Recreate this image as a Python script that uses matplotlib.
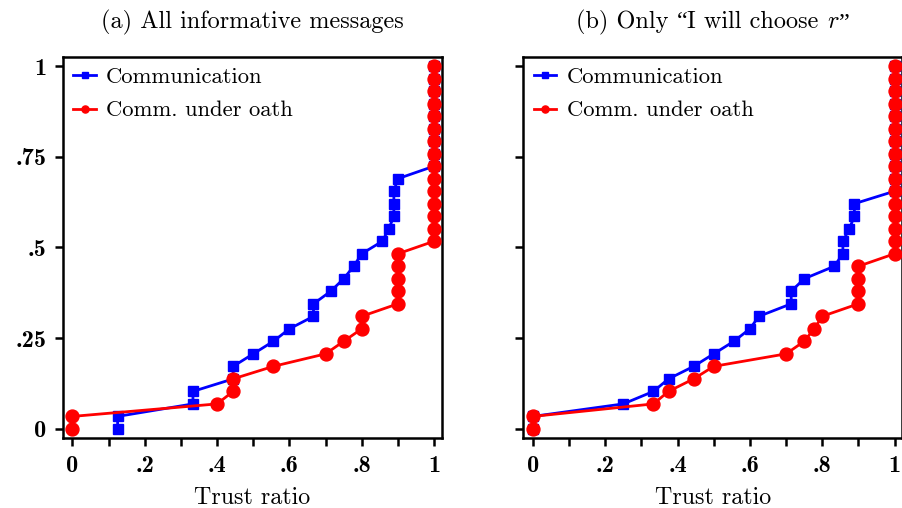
import numpy as np
import matplotlib
matplotlib.use("Agg")
import matplotlib.pyplot as plt
from matplotlib.offsetbox import TextArea, HPacker, AnchoredOffsetbox

N = 29
# Panel (a): All informative messages
a_comm_x = [0.125, 0.125, 1/3, 1/3, 4/9, 4/9, 0.5, 5/9, 0.6, 2/3, 2/3, 5/7, 0.75, 7/9, 0.8,
            6/7, 0.875, 8/9, 8/9, 8/9, 0.9] + [1.0] * 9
a_oath_x = [0.0, 0.0, 0.4, 4/9, 4/9, 5/9, 0.7, 0.75, 0.8, 0.8] + [0.9] * 5 + [1.0] * 15
# Panel (b): Only "I will choose r"
b_comm_x = [0.0, 0.0, 0.25, 1/3, 0.375, 4/9, 0.5, 5/9, 0.6, 0.625, 5/7, 5/7, 0.75, 5/6,
            6/7, 6/7, 0.875, 8/9, 8/9] + [1.0] * 11
b_oath_x = [0.0, 0.0, 1/3, 0.375, 4/9, 0.5, 0.7, 0.75, 7/9, 0.8] + [0.9] * 4 + [1.0] * 16

# titles as (text, font) pieces
title_parts = [
    [("(a) All informative messages", "cmr10")],
    [("(b) Only ", "cmr10"), ("\u201c", "Liberation Serif"), ("I will choose ", "cmr10"),
     ("$r$", "cmr10"), ("\u201d", "Liberation Serif")],
]
series_labels = ["Communication", "Comm. under oath"]
xtick_vals = [0, .1, .2, .3, .4, .5, .6, .7, .8, .9, 1]
xtick_labels = ["0", "", ".2", "", ".4", "", ".6", "", ".8", "", "1"]
ytick_vals = [0, .25, .5, .75, 1]
ytick_labels = ["0", ".25", ".5", ".75", "1"]

plt.rcParams["mathtext.fontset"] = "cm"
plt.rcParams["font.family"] = ["cmr10", "DejaVu Serif"]
plt.rcParams["axes.unicode_minus"] = False

TITLE_FS = 17.5
LEG_FS = 16.3
LAB_FS = 17.3
TICK_FS = 17.5

fig = plt.figure(figsize=(9.03, 5.08), dpi=100)
W, H = 903, 508
boxes = [(63, 57, 379, 381), (523.5, 57, 379, 381)]
data = [(a_comm_x, a_oath_x), (b_comm_x, b_oath_x)]

for i, ((l, t, w, h), (cx, ox)) in enumerate(zip(boxes, data)):
    ax = fig.add_axes([l / W, 1 - (t + h) / H, w / W, h / H])
    cy = np.arange(len(cx)) / N
    oy = np.arange(len(ox)) / N
    ax.plot(cx, cy, color="#0000ff", marker="s", markersize=7.4, lw=2.0,
            label=series_labels[0], zorder=3)
    ax.plot(ox, oy, color="#ff0000", marker="o", markersize=9.3, lw=2.0,
            label=series_labels[1], zorder=4)
    ax.set_xlim(-0.026, 1.022)
    ax.set_ylim(-0.025, 1.025)
    ax.set_xticks(xtick_vals)
    ax.set_xticklabels(xtick_labels, fontfamily="cmb10", fontsize=TICK_FS)
    ax.set_yticks(ytick_vals)
    if i == 0:
        ax.set_yticklabels(ytick_labels, fontfamily="cmb10", fontsize=TICK_FS)
    else:
        ax.set_yticklabels([])
    ax.tick_params(direction="out", length=6, width=1.8, pad=6)
    for s in ax.spines.values():
        s.set_linewidth(1.8)
    ax.set_xlabel("Trust ratio", fontsize=LAB_FS, labelpad=7)
    areas = [TextArea(s, textprops=dict(fontfamily=f, fontsize=TITLE_FS))
             for s, f in title_parts[i]]
    pack = HPacker(children=areas, align="baseline", pad=0, sep=0)
    anch = AnchoredOffsetbox(loc="lower center", child=pack, pad=0, borderpad=0,
                             frameon=False, bbox_to_anchor=(0.5, 1 + 22 / h),
                             bbox_transform=ax.transAxes)
    ax.add_artist(anch)
    ax.legend(loc="upper left", frameon=False, fontsize=LEG_FS, handlelength=1.0,
              markerscale=0.55, borderaxespad=0.05, labelspacing=0.6,
              handletextpad=0.45)

fig.savefig("out.png", dpi=100)
